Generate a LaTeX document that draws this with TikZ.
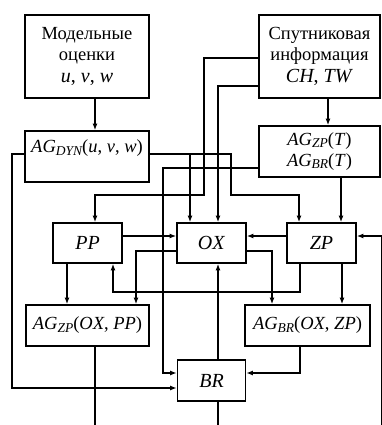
\documentclass[tikz,border=0pt]{standalone}
\usepackage{fontspec}
\setmainfont{Liberation Serif}
\usetikzlibrary{arrows.meta}
\newcommand{\lowsub}[1]{\raisebox{-0.3ex}{\fontsize{13.5}{13.5}\selectfont\itshape #1}}
\begin{document}
\begin{tikzpicture}[x=1pt,y=-1pt,
  box/.style={draw,line width=1.7pt,inner sep=0pt,font=\fontsize{18.5}{21}\selectfont,align=center},
  big/.style={font=\fontsize{20}{22}\selectfont},
  arr/.style={line width=1.5pt,-{Latex[length=6.5pt,width=5pt]}},
  ln/.style={line width=1.5pt}]
\useasboundingbox (0,0) rectangle (382,425);
% boxes
\node[box,minimum width=124pt,minimum height=83pt] (mod) at (87,56.5) {Модельные\\оценки\\[1pt]{\fontsize{20}{20}\selectfont\textit{u}, \textit{v}, \textit{w}}};
\node[box,minimum width=121pt,minimum height=83pt] (sat) at (319.5,56.5) {Спутниковая\\информация\\[1pt]{\fontsize{20}{20}\selectfont\textit{CH}, \textit{TW}}};
\node[box,minimum width=124pt,minimum height=51pt,text depth=20pt] (dyn) at (87,156.5) {\textit{AG}\lowsub{DYN}(\textit{u}, \textit{v}, \textit{w})};
\node[box,minimum width=121pt,minimum height=51pt] (agt) at (319.5,151.5) {\textit{AG}\lowsub{ZP}(\textit{T})\\\textit{AG}\lowsub{BR}(\textit{T})};
\node[box,big,minimum width=69pt,minimum height=40pt] (pp) at (87.5,243) {\textit{PP}};
\node[box,big,minimum width=69pt,minimum height=40pt] (ox) at (211.5,243) {\textit{OX}};
\node[box,big,minimum width=69pt,minimum height=40pt] (zp) at (321.5,243) {\textit{ZP}};
\node[box,minimum width=123pt,minimum height=41pt] (agzp) at (87.5,325.5) {\textit{AG}\lowsub{ZP}(\textit{OX}, \textit{PP})};
\node[box,minimum width=125pt,minimum height=41pt] (agbr) at (307.5,325.5) {\textit{AG}\lowsub{BR}(\textit{OX}, \textit{ZP})};
\node[box,big,minimum width=68pt,minimum height=41pt] (br) at (211.5,380.5) {\textit{BR}};
% free ends and junctions
\coordinate (j1) at (190,154);
\coordinate (e1) at (95,425);
\coordinate (e2) at (218,425);
\coordinate (e3) at (381.5,425);
% connectors
\draw[arr] ([xshift=8pt]mod.south) -- ([xshift=8pt]dyn.north);
\draw[arr] ([xshift=8.5pt]sat.south) -- ([xshift=8.5pt]agt.north);
\draw[arr] ([yshift=-1.5pt]sat.west) -| (204,195) -| ([xshift=7.5pt]pp.north);
\draw[arr] ([yshift=-29.5pt]sat.west) -| ([xshift=6.5pt]ox.north);
\draw[arr] ([yshift=2.5pt]dyn.east) -| (231,195) -| ([xshift=-22.5pt]zp.north);
\draw[arr] (j1) -- ([xshift=-21.5pt]ox.north);
\draw[arr] ([yshift=2.5pt]dyn.west) -- (12,154) |- ([yshift=-7.5pt]br.west);
\draw[arr] ([yshift=-16.5pt]agt.west) -- (163,168) |- ([yshift=7.5pt]br.west);
\draw[arr] ([xshift=21.5pt]agt.south) -- ([xshift=19.5pt]zp.north);
\draw[arr] ([yshift=7pt]pp.east) -- ([yshift=7pt]ox.west);
\draw[arr] ([yshift=7pt]zp.west) -- ([yshift=7pt]ox.east);
\draw[arr] ([yshift=-8pt]ox.west) -| ([xshift=48.5pt]agzp.north);
\draw[arr] ([xshift=-20.5pt]pp.south) -- ([xshift=-20.5pt]agzp.north);
\draw[arr] ([xshift=-21.5pt]zp.south) |- (113,292) -- ([xshift=25.5pt]pp.south);
\draw[arr] ([yshift=-8pt]ox.east) -| ([xshift=-35.5pt]agbr.north);
\draw[arr] ([xshift=20.5pt]zp.south) -- ([xshift=34.5pt]agbr.north);
\draw[arr] ([xshift=6.5pt]br.north) -- ([xshift=6.5pt]ox.south);
\draw[arr] ([xshift=-7.5pt]agbr.south) |- ([yshift=7.5pt]br.east);
\draw[ln] ([xshift=7.5pt]agzp.south) -- (e1);
\draw[ln] ([xshift=6.5pt]br.south) -- (e2);
\draw[arr] (e3) |- ([yshift=7pt]zp.east);
\end{tikzpicture}
\end{document}
